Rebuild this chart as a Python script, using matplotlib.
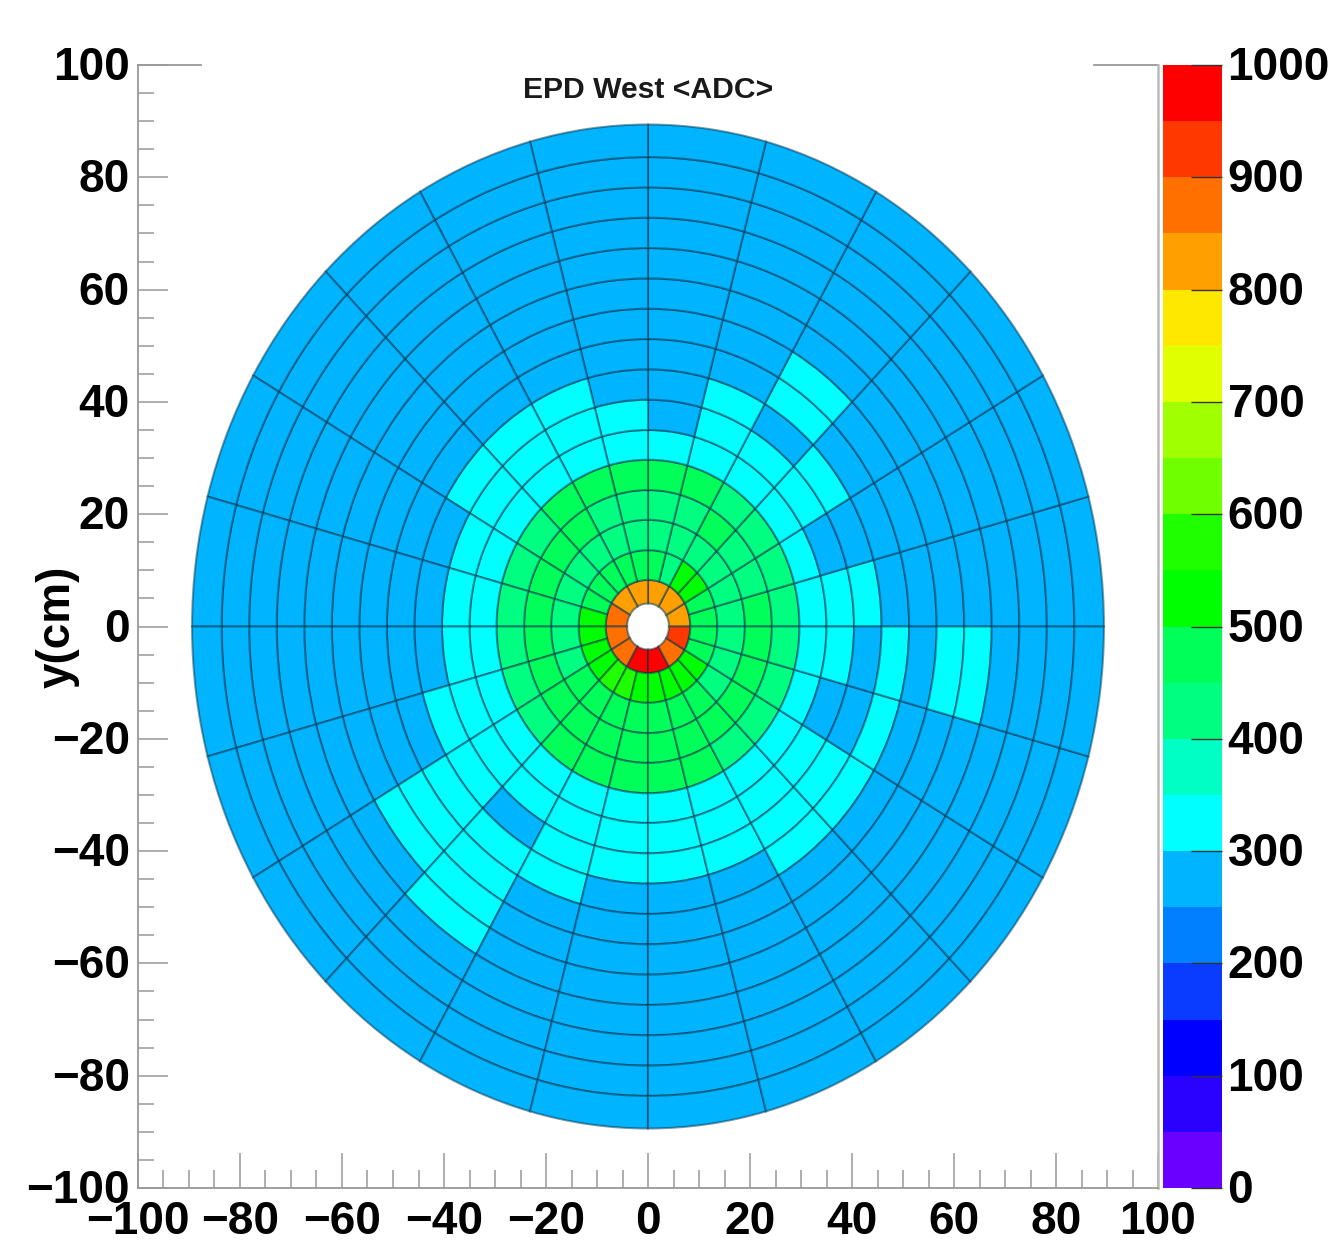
import matplotlib
matplotlib.use("Agg")
import matplotlib.pyplot as plt
from matplotlib.cm import ScalarMappable
from matplotlib.colors import BoundaryNorm, ListedColormap
from matplotlib.patches import Wedge
from matplotlib.ticker import MultipleLocator
from matplotlib.transforms import ScaledTranslation

plt.rcParams['font.family'] = ['Liberation Sans', 'DejaVu Sans']
plt.rcParams['font.weight'] = 'bold'

# tile ring edges in cm, hole first
ring_edges = [4.1, 8.3, 13.6, 19.0, 24.3, 29.7, 35.0, 40.4, 45.8, 51.2, 56.6, 62.0, 67.4, 72.8, 78.2, 83.6, 89.4]

# <ADC> per tile, counter clockwise from phi=0
# the innermost ring has 12 tiles, the others 24
ring_00 = [825, 825, 825, 825, 825, 875, 875, 875, 975, 975, 875, 925]
ring_01 = [475, 475, 525, 525, 425, 475, 475, 475, 475, 475, 475, 525, 525, 525, 525, 575, 575, 525, 525, 525, 525, 525, 475, 475]
ring_02 = [425, 425, 425, 425, 425, 425, 425, 425, 425, 425, 425, 425, 425, 425, 475, 475, 475, 475, 475, 475, 475, 425, 425, 425]
ring_03 = [475, 425, 425, 475, 425, 425, 425, 425, 475, 475, 475, 475, 475, 475, 475, 475, 475, 475, 475, 475, 475, 475, 475, 475]
ring_04 = [425, 425, 425, 425, 475, 475, 475, 475, 475, 425, 425, 425, 425, 425, 425, 475, 475, 475, 475, 475, 425, 425, 425, 425]
ring_05 = [325, 325, 325, 325, 325, 325, 325, 325, 325, 325, 325, 325, 325, 325, 325, 325, 325, 325, 325, 325, 325, 325, 325, 325]
ring_06 = [325, 275, 325, 325, 325, 275, 325, 325, 325, 325, 325, 325, 325, 325, 325, 325, 325, 325, 325, 325, 325, 325, 275, 325]
ring_07 = [325, 275, 325, 275, 325, 275, 275, 325, 325, 325, 275, 275, 275, 325, 325, 275, 325, 325, 325, 325, 325, 325, 275, 275]
ring_08 = [275, 275, 275, 325, 275, 275, 275, 275, 275, 275, 275, 275, 275, 275, 325, 325, 325, 275, 275, 275, 325, 325, 325, 325]
ring_09 = [275, 275, 275, 325, 275, 275, 275, 275, 275, 275, 275, 275, 275, 275, 325, 325, 275, 275, 275, 275, 275, 275, 275, 275]
ring_10 = [275, 275, 275, 275, 275, 275, 275, 275, 275, 275, 275, 275, 275, 275, 325, 325, 275, 275, 275, 275, 275, 275, 275, 325]
ring_11 = [275, 275, 275, 275, 275, 275, 275, 275, 275, 275, 275, 275, 275, 275, 275, 325, 275, 275, 275, 275, 275, 275, 275, 325]
ring_12 = [275, 275, 275, 275, 275, 275, 275, 275, 275, 275, 275, 275, 275, 275, 275, 275, 275, 275, 275, 275, 275, 275, 275, 275]
ring_13 = [275, 275, 275, 275, 275, 275, 275, 275, 275, 275, 275, 275, 275, 275, 275, 275, 275, 275, 275, 275, 275, 275, 275, 275]
ring_14 = [275, 275, 275, 275, 275, 275, 275, 275, 275, 275, 275, 275, 275, 275, 275, 275, 275, 275, 275, 275, 275, 275, 275, 275]
ring_15 = [275, 275, 275, 275, 275, 275, 275, 275, 275, 275, 275, 275, 275, 275, 275, 275, 275, 275, 275, 275, 275, 275, 275, 275]
rings = [ring_00, ring_01, ring_02, ring_03, ring_04, ring_05, ring_06, ring_07,
         ring_08, ring_09, ring_10, ring_11, ring_12, ring_13, ring_14, ring_15]

level_edges = [0, 50, 100, 150, 200, 250, 300, 350, 400, 450, 500, 550, 600, 650, 700, 750, 800, 850, 900, 950, 1000]
level_colors = ['#6a00ff', '#2a00ff', '#0000ff', '#0a3cff', '#0080ff', '#00b4ff', '#00ffff', '#00ffc4', '#00ff80', '#00ff58',
                '#00ff00', '#20ff00', '#70ff00', '#a0ff00', '#e0ff00', '#ffe800', '#ffa000', '#ff7000', '#ff3800', '#ff0000']
z_ticks = [0, 100, 200, 300, 400, 500, 600, 700, 800, 900, 1000]

cmap = ListedColormap(level_colors)
norm = BoundaryNorm(level_edges, cmap.N)

W, H = 1330, 1243
fig = plt.figure(figsize=(W / 100, H / 100), dpi=100)
ax = fig.add_axes([138 / W, (H - 1188) / H, 1020 / W, 1123 / H])
cax = fig.add_axes([1163 / W, (H - 1188) / H, 59 / W, 1123 / H])

for i, values in enumerate(rings):
    step = 360 / len(values)
    for k, v in enumerate(values):
        ax.add_patch(Wedge((0, 0), ring_edges[i + 1], k * step, (k + 1) * step,
                           width=ring_edges[i + 1] - ring_edges[i],
                           facecolor=cmap(norm(v)), edgecolor=(0, 0.2, 0.3, 0.5), linewidth=1.5))

ax.set_xlim(-100, 100)
ax.set_ylim(-100, 100)

ax.xaxis.set_major_locator(MultipleLocator(20))
ax.xaxis.set_minor_locator(MultipleLocator(5))
ax.yaxis.set_major_locator(MultipleLocator(20))
ax.yaxis.set_minor_locator(MultipleLocator(5))
ax.tick_params(axis='x', which='major', direction='in', length=25, width=1.1, color='#999999', labelsize=33, pad=9)
ax.tick_params(axis='x', which='minor', direction='in', length=13, width=1.1, color='#999999')
ax.tick_params(axis='y', which='major', direction='in', length=21.5, width=1.1, color='#999999', labelsize=33, pad=6)
ax.tick_params(axis='y', which='minor', direction='in', length=11.5, width=1.1, color='#999999')

for side in ['left', 'bottom']:
    ax.spines[side].set_color('#999999')
    ax.spines[side].set_linewidth(1.3)
ax.spines['right'].set_color('#bbbbbb')
ax.spines['right'].set_linewidth(1.8)
ax.spines['top'].set_visible(False)
# the top frame only survives near the corners in the original
ax.plot([0, 63 / 1020], [1, 1], color='#999999', lw=1.3, transform=ax.transAxes, clip_on=False)
ax.plot([956 / 1020, 1], [1, 1], color='#999999', lw=1.3, transform=ax.transAxes, clip_on=False)

ax.set_ylabel('y(cm)', fontsize=33, fontweight='bold', va='center')
ax.yaxis.set_label_coords(-80 / 1020, 0.5)
ax.text(0, 95.6, 'EPD West <ADC>', fontsize=21.7, fontweight='bold', ha='center', va='center', color='#1a1a1a')

cb = fig.colorbar(ScalarMappable(norm=norm, cmap=cmap), cax=cax, ticks=z_ticks, spacing='proportional', drawedges=False)
cb.outline.set_visible(False)
cax.minorticks_off()
cax.tick_params(axis='y', which='major', direction='in', length=22, width=1.0, color='#333333', labelsize=33, pad=4)
cax.set_yticklabels([str(z) for z in z_ticks])

# labels sit 2 px higher than matplotlib centres them
nudge = ScaledTranslation(0, 2 / 100, fig.dpi_scale_trans)
for label in ax.get_yticklabels() + cax.get_yticklabels():
    label.set_transform(label.get_transform() + nudge)

fig.savefig('out.png', dpi=100)
